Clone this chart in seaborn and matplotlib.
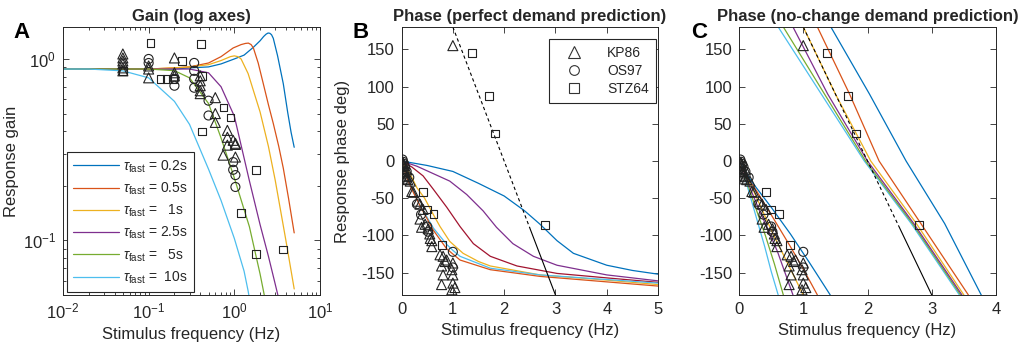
import matplotlib
matplotlib.use("Agg")
import matplotlib.pyplot as plt
from matplotlib.lines import Line2D
from matplotlib.ticker import NullFormatter, LogLocator, FixedLocator
import pandas as pd
import seaborn as sns

# ---------------- colours (MATLAB default order) ----------------
C_BLUE, C_ORANGE, C_YELLOW = "#0072BD", "#D95319", "#EDB120"
C_PURPLE, C_GREEN, C_CYAN, C_DRED = "#7E2F8E", "#77AC30", "#4DBEEE", "#A2142F"
MK = "#222222"

tau_labels = [r"$\tau_{\mathrm{fast}}$ = 0.2s", r"$\tau_{\mathrm{fast}}$ = 0.5s",
              r"$\tau_{\mathrm{fast}}$ =   1s", r"$\tau_{\mathrm{fast}}$ = 2.5s",
              r"$\tau_{\mathrm{fast}}$ =   5s", r"$\tau_{\mathrm{fast}}$ =  10s"]
dataset_labels = ["KP86", "OS97", "STZ64"]

# ---------------- Panel A: model gain curves ----------------
gA_f_02 = [0.01, 0.2, 0.3, 0.5, 0.7, 1.0, 1.3, 1.67, 2.0, 2.2, 2.35, 2.48, 2.6, 2.72, 2.85, 3.2, 3.73, 4.2, 4.6, 5.0]
gA_02 = [0.88, 0.88, 0.893, 0.904, 0.939, 1.0, 1.05, 1.16, 1.26, 1.33, 1.37, 1.39, 1.385, 1.36, 1.30, 1.04, 0.73, 0.507, 0.394, 0.326]
gA_f_05 = [0.01, 0.1, 0.2, 0.3, 0.5, 0.7, 0.97, 1.2, 1.35, 1.46, 1.57, 1.67, 1.9, 2.18, 2.5, 2.85, 3.3, 3.73, 4.3, 5.0]
gA_05 = [0.88, 0.88, 0.893, 0.904, 0.95, 1.03, 1.15, 1.20, 1.218, 1.223, 1.20, 1.15, 0.95, 0.73, 0.56, 0.441, 0.33, 0.25, 0.17, 0.11]
gA_f_1 = [0.01, 0.1, 0.2, 0.3, 0.5, 0.7, 0.9, 1.0, 1.1, 1.2, 1.45, 2.0, 2.5, 3.0, 4.0, 5.0]
gA_1 = [0.88, 0.88, 0.893, 0.904, 0.93, 0.98, 1.03, 1.04, 1.03, 1.0, 0.83, 0.51, 0.33, 0.215, 0.10, 0.054]
gA_f_25 = [0.01, 0.2, 0.3, 0.5, 0.7, 1.0, 1.5, 2.0, 2.5, 3.0, 3.4]
gA_25 = [0.88, 0.88, 0.88, 0.839, 0.703, 0.484, 0.213, 0.122, 0.0818, 0.0575, 0.045]
gA_f_5 = [0.01, 0.1, 0.2, 0.3, 0.5, 0.7, 1.0, 1.5, 2.0, 2.2, 2.4]
gA_5 = [0.88, 0.88, 0.862, 0.787, 0.568, 0.367, 0.221, 0.119, 0.0652, 0.052, 0.042]
gA_f_10 = [0.01, 0.02, 0.05, 0.1, 0.2, 0.3, 0.5, 0.7, 1.0, 1.3, 1.45, 1.6]
gA_10 = [0.88, 0.88, 0.86, 0.787, 0.584, 0.436, 0.247, 0.166, 0.1026, 0.0677, 0.0526, 0.04]

# ---------------- Panel A: measured gains ----------------
kp86_gain_f = [0.05, 0.05, 0.05, 0.05, 0.05, 0.05, 0.1, 0.1, 0.1, 0.2, 0.2, 0.2,
               0.4, 0.4, 0.4, 0.4, 0.4, 0.6, 0.6, 0.6, 0.83, 0.83, 0.97, 1.03, 0.83, 1.03, 0.74, 1.03]
kp86_gain = [1.065, 1.013, 0.975, 0.939, 0.893, 0.86, 0.915, 0.88, 0.787, 1.013, 0.839, 0.807,
             0.807, 0.758, 0.712, 0.668, 0.644, 0.612, 0.50, 0.447, 0.404, 0.37, 0.356, 0.343, 0.335, 0.338, 0.295, 0.288]
os97_gain_f = [0.1, 0.1, 0.2, 0.2, 0.34, 0.34, 0.34, 0.34, 0.5, 0.5, 0.97, 0.97, 1.03, 1.03]
os97_gain = [1.0, 0.95, 0.777, 0.712, 0.951, 0.86, 0.777, 0.694, 0.589, 0.488, 0.27, 0.245, 0.229, 0.197]
stz64_gain_f = [0.05, 0.105, 0.41, 0.137, 0.165, 0.194, 0.247, 0.42, 0.42, 0.744, 0.898, 1.8, 1.2, 1.8, 3.73]
stz64_gain = [0.86, 1.223, 1.207, 0.777, 0.777, 0.777, 0.975, 0.807, 0.399, 0.54, 0.476, 0.244, 0.142, 0.084, 0.089]

# ---------------- Panel B: model phase curves ----------------
pB_f_blue = [0, 0.5, 1.0, 1.5, 2.0, 2.4, 2.7, 3.03, 3.35, 4.0, 4.5, 5.0]
pB_blue = [0, -6, -14, -30, -47, -67, -85, -107, -124, -140, -147, -152]
pB_f_purple = [0, 0.3, 0.62, 0.94, 1.27, 1.59, 1.85, 2.17, 2.57, 3.03, 4.0, 5.0]
pB_purple = [0, -7, -17, -27, -45, -67, -89, -111, -128, -140, -153, -161]
pB_f_dred = [0, 0.2, 0.42, 0.62, 0.88, 1.14, 1.4, 1.73, 2.25, 3.03, 4.0, 5.0]
pB_dred = [0, -8, -20, -38, -62, -88, -111, -128, -141, -151, -157, -163]
pB_f_yellow = [0, 0.1, 0.2, 0.3, 0.45, 0.62, 0.75, 0.94, 1.2, 1.5, 1.73, 2.7, 4.0, 5.0]
pB_yellow = [0, -10, -22, -36, -50, -72, -88, -108, -124, -135, -141, -153, -160, -166]
pB_f_cyan = [0, 0.1, 0.2, 0.3, 0.62, 0.88, 1.0, 1.14, 1.73, 2.7, 5.0]
pB_cyan = [0, -18, -36, -52, -90, -112, -120, -128, -144, -153, -164]
pB_f_orange = [0, 0.1, 0.2, 0.36, 0.62, 0.88, 1.14, 1.73, 2.7, 5.0]
pB_orange = [0, -22, -38, -60, -93, -118, -133, -146, -155, -168]

# pure-delay reference line (dashed part, solid part)
delay_f_dash = [1.0, 2.5]
delay_dash = [180, -90]
delay_f_solid = [2.5, 3.0]
delay_solid = [-90, -180]

# ---------------- Panel C: model phase curves (wrapped) ----------------
pC_f_cyan_a = [0, 0.1, 0.2, 0.3, 0.4, 0.5, 0.61]
pC_cyan_a = [0, -25, -55, -85, -115, -148, -180]
pC_f_green_a = [0, 0.1, 0.2, 0.3, 0.41, 0.55, 0.69]
pC_green_a = [0, -22, -48, -73, -100, -138, -180]
pC_f_purple_a = [0, 0.1, 0.2, 0.3, 0.45, 0.6, 0.84]
pC_purple_a = [0, -20, -42, -63, -92, -122, -180]
pC_f_yellow_a = [0, 0.2, 0.53, 0.8, 1.0]
pC_yellow_a = [0, -35, -98, -145, -180]
pC_f_orange_a = [0, 0.2, 0.5, 0.8, 1.0, 1.22]
pC_orange_a = [0, -30, -72, -115, -145, -180]
pC_f_blue_a = [0, 0.2, 0.5, 0.8, 1.1, 1.42]
pC_blue_a = [0, -28, -62, -98, -137, -180]

pC_wrap = [180, 90, 0, -84, -180]
pC_f_cyan_b = [0.61, 1.28, 1.95, 2.68, 3.43]
pC_f_green_b = [0.69, 1.33, 1.97, 2.70, 3.45]
pC_f_purple_b = [0.84, 1.38, 2.0, 2.72, 3.47]
pC_f_yellow_b = [1.0, 1.5, 2.05, 2.76, 3.5]
pC_f_orange_b = [1.22, 1.72, 2.18, 2.83, 3.57]
pC_f_blue_b = [1.43, 2.03, 2.6, 3.2, 3.77]

# ---------------- measured phases (panels B and C) ----------------
kp86_phase_f = [0.02, 0.03, 0.04, 0.05, 0.05, 0.06, 0.07, 0.08, 0.10, 0.10, 0.12, 0.17, 0.20, 0.23,
                0.32, 0.36, 0.42, 0.36, 0.39, 0.46, 0.52, 0.55, 0.56, 0.59, 0.59, 0.75, 0.81, 0.85,
                0.78, 1.00, 0.98, 0.81, 1.00, 0.78, 1.00, 0.98, 1.04, 0.88, 1.00]
kp86_phase = [-4, -2, -6, -10, -16, -14, -19, -24, -12, -21, -25, -27, -41, -42,
              -54, -58, -65, -78, -89, -85, -91, -98, -104, -115, -107, -126, -128, -135,
              -141, -137, -146, -153, -153, -166, -164, -173, -170, -133, 155]
os97_phase_f = [0.02, 0.03, 0.05, 0.07, 0.10, 0.15, 0.30, 0.38, 0.50, 0.52, 1.00, 1.00]
os97_phase = [2, -1, -4, -8, -14, -22, -58, -72, -88, -95, -122, -143]
stz64_phase_f = [0.42, 0.50, 0.62, 0.79, 1.37, 1.70, 1.82, 2.80]
stz64_phase = [-42, -65, -71, -113, 145, 87, 37, -86]

# ---------------- style ----------------
sns.set_theme(style="ticks")
plt.rcParams["font.family"] = ["Liberation Sans", "DejaVu Sans"]
plt.rcParams["mathtext.fontset"] = "custom"
plt.rcParams["mathtext.rm"] = "Liberation Sans"
plt.rcParams["mathtext.it"] = "Liberation Sans:italic"
plt.rcParams["mathtext.bf"] = "Liberation Sans:bold"
plt.rcParams["axes.unicode_minus"] = False

AX_COL = "#262626"
FS_TICK, FS_LAB, FS_TIT, FS_LEG = 12, 12, 12, 10
LW = 0.9


def curve(ax, x, y, color, ls="-", label=None, lw=LW):
    df = pd.DataFrame({"f": x, "v": y})
    sns.lineplot(data=df, x="f", y="v", ax=ax, color=color, linewidth=lw, linestyle=ls,
                 sort=False, estimator=None, label=label)


def marks(ax, x, y, marker, s):
    df = pd.DataFrame({"f": x, "v": y})
    sns.scatterplot(data=df, x="f", y="v", ax=ax, marker=marker, s=s, facecolor="none",
                    edgecolor=MK, linewidth=0.8, zorder=5, clip_on=True)


def style_axes(ax):
    for sp in ax.spines.values():
        sp.set_color(AX_COL)
        sp.set_linewidth(0.7)
    ax.tick_params(which="both", direction="in", top=True, right=True, color=AX_COL,
                   labelcolor=AX_COL, labelsize=FS_TICK, width=0.6)
    ax.tick_params(which="major", length=4, pad=5)
    ax.tick_params(which="minor", length=2.2)


fig = plt.figure(figsize=(10.22, 3.49), dpi=100)
axA = fig.add_axes([0.0616, 0.1547, 0.2515, 0.7679])
axB = fig.add_axes([0.3929, 0.1547, 0.2510, 0.7679])
axC = fig.add_axes([0.7231, 0.1547, 0.2515, 0.7679])

# ---------- Panel A ----------
gain_curves = [(gA_f_02, gA_02, C_BLUE), (gA_f_05, gA_05, C_ORANGE), (gA_f_1, gA_1, C_YELLOW),
               (gA_f_25, gA_25, C_PURPLE), (gA_f_5, gA_5, C_GREEN), (gA_f_10, gA_10, C_CYAN)]
for (fx, gy, col), lab in zip(gain_curves, tau_labels):
    curve(axA, fx, gy, col, label=lab)
marks(axA, kp86_gain_f, kp86_gain, "^", 52)
marks(axA, os97_gain_f, os97_gain, "o", 42)
marks(axA, stz64_gain_f, stz64_gain, "s", 30)
axA.set_xscale("log")
axA.set_yscale("log")
axA.set_xlim(0.01, 10)
axA.set_ylim(0.05, 1.5)
axA.yaxis.set_major_locator(FixedLocator([0.1, 1.0]))
axA.yaxis.set_minor_locator(LogLocator(base=10, subs=range(2, 10)))
axA.yaxis.set_minor_formatter(NullFormatter())
axA.xaxis.set_minor_formatter(NullFormatter())
style_axes(axA)
axA.set_xlabel("Stimulus frequency (Hz)", fontsize=FS_LAB, color=AX_COL)
axA.set_ylabel("Response gain", fontsize=FS_LAB, color=AX_COL)
axA.yaxis.set_label_coords(-0.17, 0.5)
axA.set_title("Gain (log axes)", fontsize=FS_TIT, fontweight="bold", pad=4)
legA = axA.legend(loc="lower left", bbox_to_anchor=(0.016, 0.011), borderaxespad=0,
                  fontsize=FS_LEG, handlelength=3.3, handletextpad=0.3, labelspacing=0.42,
                  borderpad=0.45, fancybox=False, framealpha=1, edgecolor=AX_COL)
legA.get_frame().set_linewidth(0.8)

# ---------- Panel B ----------
phaseB = [(pB_f_blue, pB_blue, C_BLUE), (pB_f_purple, pB_purple, C_PURPLE),
          (pB_f_dred, pB_dred, C_DRED), (pB_f_yellow, pB_yellow, C_YELLOW),
          (pB_f_cyan, pB_cyan, C_CYAN), (pB_f_orange, pB_orange, C_ORANGE)]
for fx, py, col in phaseB:
    curve(axB, fx, py, col)

# ---------- Panel C ----------
phaseC = [(pC_f_cyan_a, pC_cyan_a, pC_f_cyan_b, C_CYAN),
          (pC_f_green_a, pC_green_a, pC_f_green_b, C_GREEN),
          (pC_f_purple_a, pC_purple_a, pC_f_purple_b, C_PURPLE),
          (pC_f_yellow_a, pC_yellow_a, pC_f_yellow_b, C_YELLOW),
          (pC_f_orange_a, pC_orange_a, pC_f_orange_b, C_ORANGE),
          (pC_f_blue_a, pC_blue_a, pC_f_blue_b, C_BLUE)]
for fa, pa, fb, col in phaseC:
    curve(axC, fa, pa, col)
    curve(axC, fb, pC_wrap, col)

for ax, xmax, ylab in [(axB, 5, "Response phase deg)"), (axC, 4, None)]:
    curve(ax, delay_f_dash, delay_dash, "black", ls=(0, (3, 2.5)), lw=0.8)
    curve(ax, delay_f_solid, delay_solid, "black", lw=0.8)
    marks(ax, kp86_phase_f, kp86_phase, "^", 52)
    marks(ax, os97_phase_f, os97_phase, "o", 42)
    marks(ax, stz64_phase_f, stz64_phase, "s", 30)
    ax.set_xlim(0, xmax)
    ax.set_ylim(-180, 180)
    ax.set_yticks([-150, -100, -50, 0, 50, 100, 150])
    ax.set_xticks(list(range(0, xmax + 1)))
    style_axes(ax)
    ax.set_xlabel("Stimulus frequency (Hz)", fontsize=FS_LAB, color=AX_COL)
    ax.set_ylabel(ylab if ylab else "", fontsize=FS_LAB, color=AX_COL)
    if ax.get_legend() is not None:
        ax.get_legend().remove()

axB.yaxis.set_label_coords(-0.2, 0.5)
axB.set_title("Phase (perfect demand prediction)", fontsize=FS_TIT, fontweight="bold", pad=4)
axC.set_title("Phase (no-change demand prediction)", fontsize=FS_TIT, fontweight="bold", pad=4)

handles = [Line2D([], [], ls="none", marker=m, ms=ms, mfc="none", mec="#333333", mew=0.8)
           for m, ms in [("^", 8), ("o", 7), ("s", 6.5)]]
legB = axB.legend(handles, dataset_labels, loc="upper right", bbox_to_anchor=(0.992, 0.955),
                  borderaxespad=0, fontsize=FS_LEG, handlelength=2.6, handletextpad=1.1,
                  labelspacing=0.28, borderpad=0.5, fancybox=False, framealpha=1,
                  edgecolor=AX_COL)
legB.get_frame().set_linewidth(0.8)

for txt, xp in [("A", 13), ("B", 352), ("C", 691)]:
    fig.text(xp / 1022, 1 - 38 / 349, txt, fontsize=16, fontweight="bold", va="baseline",
             ha="left", color="black")

fig.savefig("out.png", dpi=100)
